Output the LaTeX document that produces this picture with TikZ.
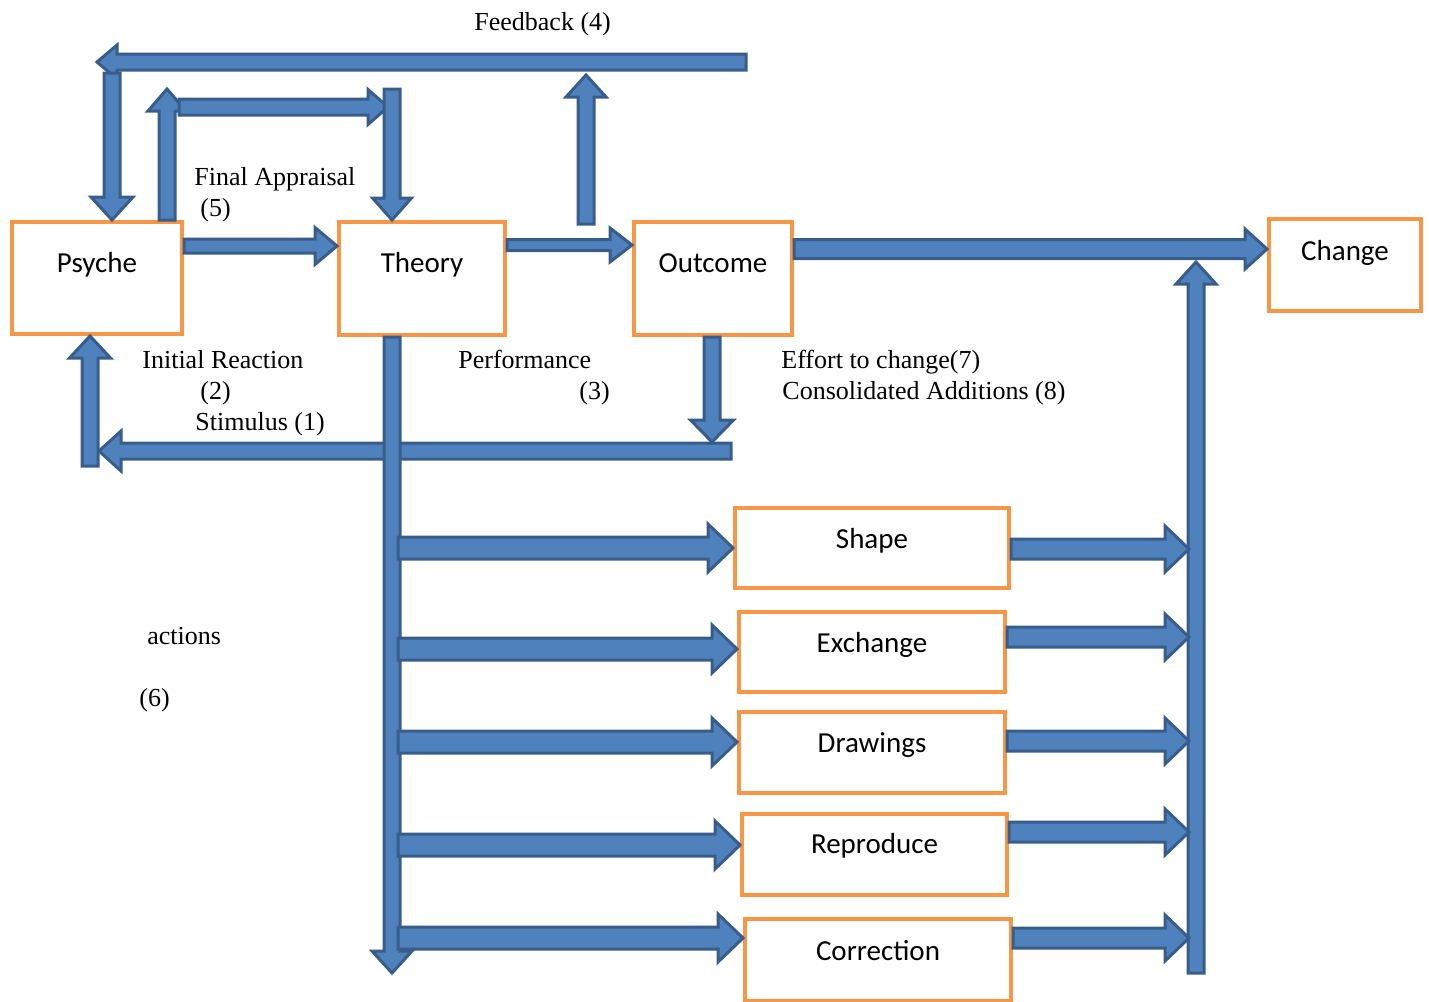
\documentclass[tikz,border=0pt]{standalone}
\usepackage{fontspec}
\setmainfont{Liberation Serif}
\newfontfamily\boxfont{Carlito}
\usetikzlibrary{calc}

\definecolor{boxorange}{HTML}{F79646}
\definecolor{arrowline}{HTML}{385D8A}
\definecolor{arrowfill}{HTML}{4F81BD}

\tikzset{
	stage/.style n args={3}{draw=boxorange, line width=2pt, fill=white, anchor=north west, inner sep=0pt,
		minimum width=#1, text height=#2, text depth=#3, font=\boxfont\fontsize{14.5}{17}\selectfont},
	lbl/.style={anchor=base west, inner sep=0pt, font=\fontsize{13}{15.5}\selectfont},
	barrow/.style={draw=arrowline, fill=arrowfill, line width=1.5pt, line join=miter},
	shaft w/.store in=\shaftw, shaft w=4pt,
	head w/.store in=\headw, head w=10pt,
	head len/.store in=\headl, head len=11pt,
}

% block arrow from #2 to #3 (tip)
\newcommand{\blockarrow}[3][]{%
	\begin{scope}[#1]
		\coordinate (ba) at #2;
		\coordinate (bb) at #3;
		\coordinate (bh) at ($(bb)!\headl!(ba)$);
		\draw[barrow] ($(ba)!\shaftw!90:(bb)$) -- ($(bh)!\shaftw!90:(bb)$) -- ($(bh)!\headw!90:(bb)$)
			-- (bb) -- ($(bh)!\headw!-90:(bb)$) -- ($(bh)!\shaftw!-90:(bb)$) -- ($(ba)!\shaftw!-90:(bb)$) -- cycle;
	\end{scope}}

\begin{document}
\begin{tikzpicture}[x = 0.5pt, y = -0.5pt]
	\useasboundingbox (0,0) rectangle (1429,1001);

	% boxes
	\node[stage={85pt}{25pt}{31pt}] (Psyche) at (10,220) {Psyche};
	\node[stage={83pt}{25pt}{31.5pt}] (Theory) at (337,220) {Theory};
	\node[stage={79pt}{25pt}{31.5pt}] (Outcome) at (632,220) {Outcome};
	\node[stage={76pt}{20.5pt}{25.5pt}] (Change) at (1267,217) {Change};
	\node[stage={137pt}{20pt}{20pt}] (Shape) at (733,506) {Shape};
	\node[stage={133pt}{20pt}{20pt}] (Exchange) at (737,610) {Exchange};
	\node[stage={133pt}{20pt}{20.5pt}] (Drawings) at (737,710) {Drawings};
	\node[stage={132.5pt}{19.5pt}{21pt}] (Reproduce) at (740,812) {Reproduce};
	\node[stage={133pt}{20.5pt}{20.5pt}] (Correction) at (743,917) {Correction};

	% free ends
	\coordinate (fbtail) at (746,62);
	\coordinate (fbtip) at (97,62);
	\coordinate (fbdrop) at (112,73);
	\coordinate (aprise) at (167,89);
	\coordinate (apleft) at (179,107);
	\coordinate (apright) at (388,107);
	\coordinate (aptop) at (392,89);
	\coordinate (fbrise) at (586,224);
	\coordinate (fbjoin) at (586,75);
	\coordinate (outdrop) at (712,442);
	\coordinate (sttail) at (731,451);
	\coordinate (sttip) at (99,451);
	\coordinate (strise) at (90,466);
	\coordinate (actend) at (392,973);
	\coordinate (chbase) at (1196,973);
	\coordinate (chtip) at (1196,262);
	\coordinate (lspine) at (398,0);
	\coordinate (rspine) at (1189,0);

	% feedback and appraisal loop
	\blockarrow[head w=8.5pt, head len=10pt]{(fbtail)}{(fbtip)}
	\blockarrow[head w=10.5pt, head len=11.5pt]{(fbdrop)}{($(Psyche.north west)+(102,0)$)}
	\blockarrow[head w=9.5pt]{($(Psyche.north west)+(157,0)$)}{(aprise)}
	\blockarrow[head w=8.75pt, head len=10pt]{(apleft)}{(apright)}
	\blockarrow[head w=9.75pt]{(aptop)}{($(Theory.north west)+(55,0)$)}
	\blockarrow{(fbrise)}{(fbjoin)}

	% main line
	\blockarrow[shaft w=3.5pt, head w=9.25pt]{($(Psyche.north east)+(0,26)$)}{($(Theory.north west)+(0,26)$)}
	\blockarrow[shaft w=2.75pt, head w=8.5pt]{($(Theory.north east)+(0,25)$)}{($(Outcome.north west)+(0,25)$)}
	\blockarrow[shaft w=4.75pt]{($(Outcome.north east)+(0,29)$)}{($(Change.north west)+(0,32)$)}

	% stimulus loop
	\blockarrow{(sttail)}{(sttip)}
	\blockarrow[head w=10.25pt]{(strise)}{($(Psyche.south west)+(80,0)$)}
	\blockarrow[head w=10.75pt]{($(Outcome.south west)+(80,0)$)}{(outdrop)}

	% actions
	\blockarrow{($(Theory.south west)+(55,0)$)}{(actend)}
	\blockarrow{(chbase)}{(chtip)}
	\foreach \name/\din/\dout in {Shape/42/43, Exchange/39/27, Drawings/32/31, Reproduce/33/20, Correction/21/21}{
		\coordinate (in) at ($(\name.north west)+(0,\din)$);
		\coordinate (out) at ($(\name.north east)+(0,\dout)$);
		\blockarrow[shaft w=5.5pt, head w=12pt, head len=12.5pt]{(in -| lspine)}{(in)}
		\blockarrow[shaft w=5pt, head w=11.5pt, head len=12pt]{(out)}{(out -| rspine)}
	}

	% labels
	\node[lbl] (fb) at (474,31) {Feedback (4)};
	\node[lbl] (fa) at (194,185) {Final Appraisal};
	\node[lbl] (fa5) at (200,216) {(5)};
	\node[lbl] (ir) at (142,368) {Initial Reaction};
	\node[lbl] (ir2) at (200,399) {(2)};
	\node[lbl] (st) at (195,430) {Stimulus (1)};
	\node[lbl] (pf) at (458,368) {Performance};
	\node[lbl] (pf3) at (579,399) {(3)};
	\node[lbl] (ef) at (781,368) {Effort to change(7)};
	\node[lbl] (ca) at (782,399) {Consolidated Additions (8)};
	\node[lbl] (ac) at (147,644) {actions};
	\node[lbl] (ac6) at (139,706) {(6)};
\end{tikzpicture}
\end{document}
